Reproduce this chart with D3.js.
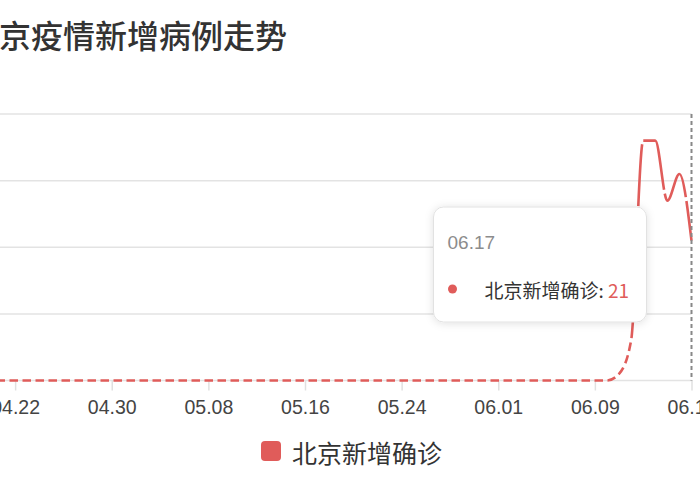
<!DOCTYPE html>
<html>
<head>
<meta charset="utf-8">
<script src="https://cdn.jsdelivr.net/npm/d3@7"></script>
<style>
  body { margin: 0; background: #fff; }
  svg { display: block; font-family: "Noto Sans CJK SC", "PingFang SC", sans-serif; }
</style>
</head>
<body>
<div id="chart"></div>
<script>
const title = '北京疫情新增病例走势'
const seriesName = '北京新增确诊'

const dates = [
  '04.14', '04.15', '04.16', '04.17', '04.18', '04.19', '04.20', '04.21', '04.22', '04.23',
  '04.24', '04.25', '04.26', '04.27', '04.28', '04.29', '04.30',
  '05.01', '05.02', '05.03', '05.04', '05.05', '05.06', '05.07', '05.08', '05.09', '05.10',
  '05.11', '05.12', '05.13', '05.14', '05.15', '05.16', '05.17', '05.18', '05.19', '05.20',
  '05.21', '05.22', '05.23', '05.24', '05.25', '05.26', '05.27', '05.28', '05.29', '05.30', '05.31',
  '06.01', '06.02', '06.03', '06.04', '06.05', '06.06', '06.07', '06.08', '06.09', '06.10',
  '06.11', '06.12', '06.13', '06.14', '06.15', '06.16', '06.17'
]

const cases = [
  0, 0, 0, 0, 0, 0, 0, 0, 0, 0,
  0, 0, 0, 0, 0, 0, 0,
  0, 0, 0, 0, 0, 0, 0, 0, 0, 0,
  0, 0, 0, 0, 0, 0, 0, 0, 0, 0,
  0, 0, 0, 0, 0, 0, 0, 0, 0, 0, 0,
  0, 0, 0, 0, 0, 0, 0, 0, 0, 0,
  1, 6, 36, 36, 27, 31, 21
]

const yTicks = [0, 10, 20, 30, 40]
const tickEvery = 8
const dashedUntil = '06.12'
const tooltipDate = '06.17'

const red = '#e05c5a'
const chartWidth = 700
const chartHeight = 500
// the screenshot is cropped: plot starts left of the viewport
const margin = { top: 114, right: 8.5, bottom: 119.5, left: -81.5 }

const svg = d3.select('#chart')
  .append('svg')
    .attr('width', chartWidth)
    .attr('height', chartHeight)

const defs = svg.append('defs')
defs.append('filter')
    .attr('id', 'shadow')
    .attr('x', '-20%').attr('y', '-20%')
    .attr('width', '140%').attr('height', '140%')
  .append('feDropShadow')
    .attr('dx', 0).attr('dy', 1)
    .attr('stdDeviation', 4)
    .attr('flood-color', '#000')
    .attr('flood-opacity', 0.12)

// title (first character falls outside the crop)
svg.append('text')
    .attr('x', -33)
    .attr('y', 48)
    .attr('font-size', 32)
    .attr('font-weight', 500)
    .attr('fill', '#333')
    .text(title)

const x = d3.scalePoint()
  .domain(dates)
  .range([margin.left, chartWidth - margin.right])

const y = d3.scaleLinear()
  .domain([0, 40])
  .range([chartHeight - margin.bottom, margin.top])

// grid
svg.append('g')
  .selectAll('line')
  .data(yTicks)
  .join('line')
    .attr('x1', margin.left)
    .attr('x2', chartWidth - margin.right)
    .attr('y1', d => y(d))
    .attr('y2', d => y(d))
    .attr('stroke', '#e3e3e3')
    .attr('stroke-width', 1.5)

// x axis
const xAxis = svg.append('g')
  .attr('transform', `translate(0, ${y(0)})`)
  .call(d3.axisBottom(x)
    .tickValues(dates.filter((d, i) => i % tickEvery === 0))
    .tickSize(10)
    .tickPadding(10))

xAxis.select('.domain').remove()
xAxis.selectAll('.tick line')
  .attr('stroke', '#e0e0e0')
  .attr('stroke-width', 1.5)
xAxis.selectAll('.tick text')
  .attr('font-size', 19.5)
  .attr('fill', '#444')
  .attr('font-family', '"Liberation Sans", "Noto Sans CJK SC", sans-serif')

// line
const line = d3.line()
  .x((d, i) => x(dates[i]))
  .y(d => y(d))
  .curve(d3.curveMonotoneX)

const path = svg.append('path')
  .datum(cases)
  .attr('d', line)
  .attr('fill', 'none')
  .attr('stroke', red)
  .attr('stroke-width', 2.6)

// short dashes along the flat part, long dashes over the outbreak
const node = path.node()
const total = node.getTotalLength()
const switchX = x(dashedUntil)
let lo = 0
let hi = total
while (hi - lo > 0.5) {
  const mid = (lo + hi) / 2
  if (node.getPointAtLength(mid).x < switchX) lo = mid
  else hi = mid
}
const dash = []
let acc = 0
while (acc < lo) { dash.push(8.5, 4.5); acc += 13 }
while (acc < total + 80) { dash.push(62, 4); acc += 66 }
path.attr('stroke-dasharray', dash.join(','))

// axis pointer
svg.append('line')
  .attr('x1', x(tooltipDate))
  .attr('x2', x(tooltipDate))
  .attr('y1', y(40))
  .attr('y2', y(0))
  .attr('stroke', '#888')
  .attr('stroke-width', 2)
  .attr('stroke-dasharray', '4,3')

// tooltip
const tipValue = cases[dates.indexOf(tooltipDate)]
const tip = svg.append('g')
  .attr('transform', `translate(${x(tooltipDate) - 258}, 207)`)

tip.append('rect')
  .attr('width', 213)
  .attr('height', 115)
  .attr('rx', 10)
  .attr('fill', '#fff')
  .attr('stroke', '#e2e2e2')
  .attr('filter', 'url(#shadow)')

tip.append('text')
  .attr('x', 14)
  .attr('y', 35)
  .attr('dominant-baseline', 'central')
  .attr('font-size', 19)
  .attr('fill', '#8c8c8c')
  .attr('font-family', '"Liberation Sans", "Noto Sans CJK SC", sans-serif')
  .text(tooltipDate)

tip.append('circle')
  .attr('cx', 19)
  .attr('cy', 82)
  .attr('r', 4.5)
  .attr('fill', red)

const tipText = tip.append('text')
  .attr('x', 51)
  .attr('y', 82)
  .attr('dominant-baseline', 'central')
  .attr('font-size', 19)
  .attr('fill', '#333')
tipText.append('tspan').text(`${seriesName}: `)
tipText.append('tspan').attr('fill', red).text(tipValue)

// legend
const legend = svg.append('g')
  .attr('transform', 'translate(261, 441)')

legend.append('rect')
  .attr('width', 20)
  .attr('height', 20)
  .attr('rx', 4)
  .attr('fill', red)

legend.append('text')
  .attr('x', 31)
  .attr('y', 11)
  .attr('dominant-baseline', 'central')
  .attr('font-size', 25)
  .attr('fill', '#333')
  .text(seriesName)
</script>
</body>
</html>
